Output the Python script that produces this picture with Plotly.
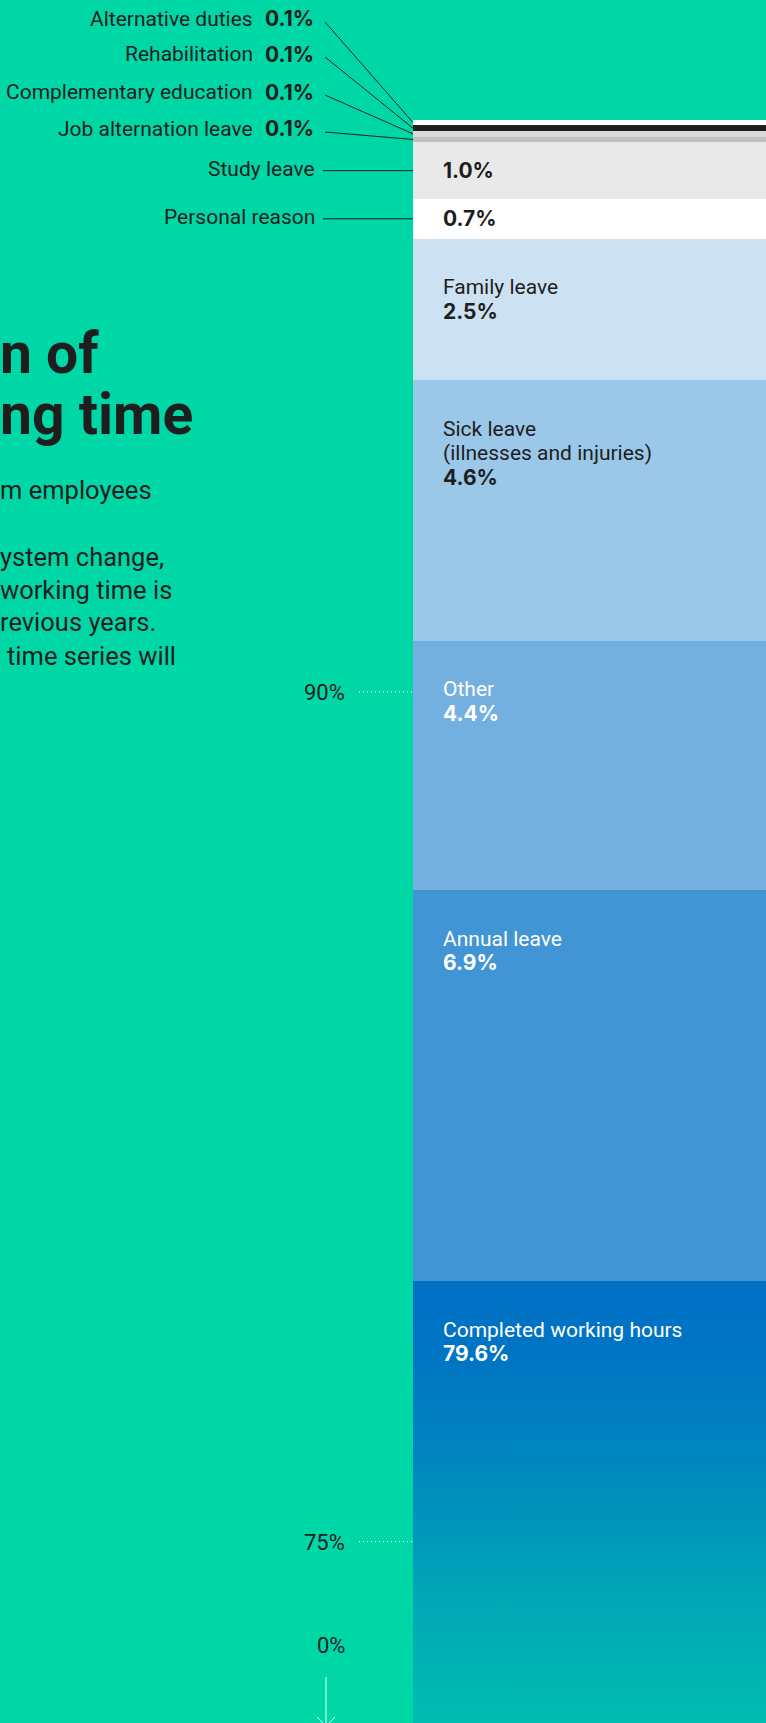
import plotly.graph_objects as go

# Distribution of working time (%), stacked from the bottom of the column upwards
categories = [
    "Completed working hours", "Annual leave", "Other", "Sick leave",
    "Family leave", "Personal reason", "Study leave", "Job alternation leave",
    "Complementary education", "Rehabilitation", "Alternative duties",
]
shares = [79.6, 6.9, 4.4, 4.6, 2.5, 0.7, 1.0, 0.1, 0.1, 0.1, 0.1]

# Text written inside the larger segments
segment_titles = {
    "Completed working hours": ["Completed working hours"],
    "Annual leave": ["Annual leave"],
    "Other": ["Other"],
    "Sick leave": ["Sick leave", "(illnesses and injuries)"],
    "Family leave": ["Family leave"],
}
# Small segments labelled to the left of the column
side_small = ["Alternative duties", "Rehabilitation", "Complementary education",
              "Job alternation leave"]
side_inline = ["Study leave", "Personal reason"]

tick_values = [90, 75]
tick_labels = ["90%", "75%"]
break_label = "0%"

colors = {
    "Annual leave": "#4195D5",
    "Other": "#74B0DF",
    "Sick leave": "#9BC7E8",
    "Family leave": "#CCE2F3",
    "Personal reason": "#FFFFFF",
    "Study leave": "#E9E9E9",
    "Job alternation leave": "#C0C0C0",
    "Complementary education": "#D9D9D9",
    "Rehabilitation": "#1F1F1F",
    "Alternative duties": "#FFFFFF",
}
light_text = {"Completed working hours", "Annual leave", "Other"}

BG = "#00D7A7"
INK = "#1E1E1E"
FONT = "Roboto"
FONT_NUM = "Inter"

W, H = 766, 1723
BAR_LEFT, BAR_RIGHT = 413, 775
PX_PER_PCT = 56.65
ANCHOR_VALUE, ANCHOR_PX = 79.6, 1281          # value axis calibration
Y_MAX = ANCHOR_VALUE + ANCHOR_PX / PX_PER_PCT
Y_MIN = Y_MAX - H / PX_PER_PCT


def px_of(v):
    return (Y_MAX - v) * PX_PER_PCT


def paper_of_px(p):
    return 1 - p / H


# cumulative bases
bases = []
acc = 0.0
for s in shares:
    bases.append(acc)
    acc += s
base_of = dict(zip(categories, bases))
share_of = dict(zip(categories, shares))

fig = go.Figure()

bar_center = (BAR_LEFT + BAR_RIGHT) / 2
bar_width = BAR_RIGHT - BAR_LEFT

# Completed working hours: filled column with a vertical gradient
c0 = categories[0]
fig.add_trace(go.Scatter(
    x=[BAR_LEFT, BAR_RIGHT, BAR_RIGHT, BAR_LEFT, BAR_LEFT],
    y=[base_of[c0], base_of[c0], base_of[c0] + share_of[c0],
       base_of[c0] + share_of[c0], base_of[c0]],
    mode="lines", fill="toself", line=dict(width=0),
    fillgradient=dict(
        type="vertical",
        colorscale=[[0, "#00BDB0"], [0.3, "#00A5B6"], [0.6, "#0086BF"],
                    [0.85, "#0074C4"], [1, "#0070C5"]],
        start=Y_MIN, stop=base_of[c0] + share_of[c0],
    ),
    hoverinfo="skip", showlegend=False,
))

for cat in categories[1:]:
    fig.add_trace(go.Bar(
        x=[bar_center], y=[share_of[cat]], base=[base_of[cat]],
        width=[bar_width], marker=dict(color=colors[cat], line=dict(width=0)),
        hoverinfo="skip", showlegend=False,
    ))

annotations = []
shapes = []


def note(x, y, text, size=21, color=INK, xanchor="left", yref="y",
         yshift=0, bold=False, family=FONT):
    annotations.append(dict(
        x=x, y=y, xref="x", yref=yref, text=f"<b>{text}</b>" if bold else text,
        showarrow=False, xanchor=xanchor, yanchor="middle", yshift=yshift,
        borderpad=0, borderwidth=0,
        font=dict(family=family, size=size, color=color),
    ))


def value_note(x, y, v, color=INK, xanchor="left", yref="y", yshift=0):
    note(x, y, f"{v:.1f}%", size=21, color=color, xanchor=xanchor, yref=yref,
         yshift=yshift, bold=True, family=FONT_NUM)


# Labels inside the larger segments
TEXT_X = 443
for cat, lines in segment_titles.items():
    top = base_of[cat] + share_of[cat]
    col = "#FFFFFF" if cat in light_text else INK
    offs = 48.5
    for ln in lines:
        note(TEXT_X, top, ln, color=col, yshift=-offs)
        offs += 24.3
    value_note(TEXT_X, top, share_of[cat], color=col, yshift=-offs)

# Study leave / personal reason: value inside, name at the left with a leader
for cat in side_inline:
    mid = base_of[cat] + share_of[cat] / 2
    value_note(TEXT_X, mid, share_of[cat])
    note(315, mid, cat, xanchor="right", yshift=1.5)
    shapes.append(dict(type="line", xref="x", yref="y", x0=323, x1=BAR_LEFT,
                       y0=mid, y1=mid, line=dict(color=INK, width=1)))

# The four thinnest segments: labels fanned out above the column
row_px = [19, 54, 92, 129]
for cat, p in zip(side_small, row_px):
    mid = base_of[cat] + share_of[cat] / 2
    yp = paper_of_px(p)
    note(253, yp, cat, xanchor="right", yref="paper")
    value_note(265, yp, share_of[cat], yref="paper")
    shapes.append(dict(type="line", xref="x", yref="paper", x0=325, x1=BAR_LEFT,
                       y0=paper_of_px(p + 3), y1=paper_of_px(px_of(mid)),
                       line=dict(color=INK, width=1)))

# Value axis: dotted ticks and labels
for v, t in zip(tick_values, tick_labels):
    note(345, v, t, size=22, xanchor="right", yshift=-1)
    shapes.append(dict(type="line", xref="x", yref="y", x0=359, x1=BAR_LEFT,
                       y0=v, y1=v, line=dict(color="#FFFFFF", width=1, dash="1px,3px")))
note(345, paper_of_px(1645), break_label, size=22, xanchor="right", yref="paper")

# Downward arrow under the axis break
ARROW_X = 326
for x0, y0, x1, y1 in [(ARROW_X, 1677, ARROW_X, 1730),
                       (ARROW_X - 9, 1717, ARROW_X, 1726),
                       (ARROW_X + 9, 1717, ARROW_X, 1726)]:
    shapes.append(dict(type="line", xref="x", yref="paper", x0=x0, x1=x1,
                       y0=paper_of_px(y0), y1=paper_of_px(y1),
                       line=dict(color="#E6FFF7", width=1)))

# Heading and introduction text of the left column
note(0, paper_of_px(353), "n of", size=57, yref="paper", bold=True)
note(0, paper_of_px(414), "ng time", size=57, yref="paper", bold=True)
note(0, paper_of_px(490), "m employees", size=25.5, yref="paper")
body = [("ystem change,", 0, 557), ("working time is", 0, 590),
        ("revious years.", 0, 622), ("time series will", 7, 656)]
for txt, left, p in body:
    note(left, paper_of_px(p), txt, size=25.5, yref="paper")

fig.update_layout(
    width=W, height=H, margin=dict(l=0, r=0, t=0, b=0, pad=0),
    paper_bgcolor=BG, plot_bgcolor=BG, barmode="overlay", bargap=0,
    xaxis=dict(range=[0, W], visible=False, fixedrange=True),
    yaxis=dict(range=[Y_MIN, Y_MAX], visible=False, fixedrange=True),
    annotations=annotations, shapes=shapes, showlegend=False,
    font=dict(family=FONT, color=INK),
)

fig.write_html("out.html", config={"displayModeBar": False})
